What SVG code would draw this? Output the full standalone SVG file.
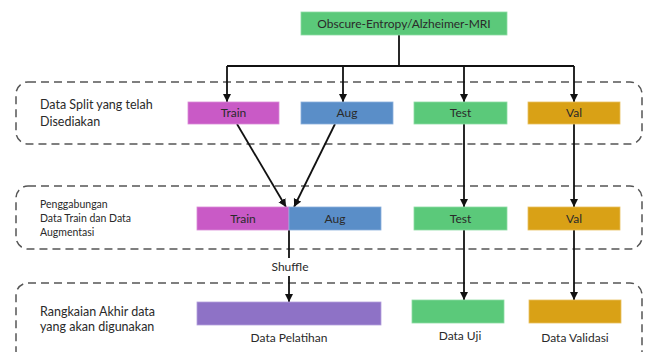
<svg xmlns="http://www.w3.org/2000/svg" width="648" height="352" viewBox="0 0 648 352">
<defs>
<marker id="ah" viewBox="0 0 10 10" refX="10" refY="5" markerWidth="8" markerHeight="9" markerUnits="userSpaceOnUse" orient="auto"><path d="M0,0 L10,5 L0,10 z" fill="#111"/></marker>
<style>
.t{font-family:"Lato","Liberation Sans",sans-serif;fill:#2a2a2a;}
.lbl{font-size:12px;text-anchor:middle;}
.side{font-size:12.5px;}
.side2{font-size:10.5px;}
.grp{fill:none;stroke:#555;stroke-width:1.5;stroke-dasharray:8 5;}
.c{fill:none;stroke:#111;stroke-width:1.8;}
.train{fill:#c95ac6;stroke:#d98ad6;stroke-width:0.8;}
.aug{fill:#5a8ec8;stroke:#8ab0dc;stroke-width:0.8;}
.grn{fill:#5bc97a;stroke:#8ddca4;stroke-width:0.8;}
.val{fill:#d9a116;stroke:#e8c060;stroke-width:0.8;}
.pur{fill:#8e72c6;stroke:#b4a0dc;stroke-width:0.8;}
</style>
</defs>
<rect width="648" height="352" fill="#ffffff"/>
<g id="groups">
<rect class="grp" x="16" y="82" width="626" height="62" rx="12"/>
<rect class="grp" x="16" y="186" width="626" height="63" rx="12"/>
<rect class="grp" x="16" y="283" width="626" height="80" rx="12"/>
<text class="t side" x="40" y="109">Data Split yang telah</text>
<text class="t side" x="40" y="126">Disediakan</text>
<text class="t side2" x="40" y="208">Penggabungan</text>
<text class="t side2" x="40" y="221.5">Data Train dan Data</text>
<text class="t side2" x="40" y="235.5">Augmentasi</text>
<text class="t side" x="40" y="316">Rangkaian Akhir data</text>
<text class="t side" x="40" y="331">yang akan digunakan</text>
</g>
<g id="connectors">
<path class="c" d="M399,35 V66"/>
<path class="c" d="M227,66 H574"/>
<path class="c" d="M227,66 V102" marker-end="url(#ah)"/>
<path class="c" d="M343,66 V102" marker-end="url(#ah)"/>
<path class="c" d="M464,66 V102" marker-end="url(#ah)"/>
<path class="c" d="M574,66 V102" marker-end="url(#ah)"/>
<path class="c" d="M237,124 L286,207" marker-end="url(#ah)"/>
<path class="c" d="M335,124 L294,207" marker-end="url(#ah)"/>
<path class="c" d="M464,124 V207" marker-end="url(#ah)"/>
<path class="c" d="M574,124 V207" marker-end="url(#ah)"/>
<path class="c" d="M289,230 V258"/>
<text class="t lbl" x="290" y="271">Shuffle</text>
<path class="c" d="M289,276 V302" marker-end="url(#ah)"/>
<path class="c" d="M464,230 V300" marker-end="url(#ah)"/>
<path class="c" d="M574,230 V300" marker-end="url(#ah)"/>
</g>
<g id="source">
<rect class="grn" x="301" y="12" width="206" height="23"/>
<text class="t lbl" x="404" y="28">Obscure-Entropy/Alzheimer-MRI</text>
</g>
<g id="train1"><rect class="train" x="188" y="102" width="91" height="22"/><text class="t lbl" x="233.5" y="117">Train</text></g>
<g id="aug1"><rect class="aug" x="301" y="102" width="92" height="22"/><text class="t lbl" x="347" y="117">Aug</text></g>
<g id="test1"><rect class="grn" x="414" y="102" width="93" height="22"/><text class="t lbl" x="460.5" y="117">Test</text></g>
<g id="val1"><rect class="val" x="528" y="102" width="92" height="22"/><text class="t lbl" x="574" y="117">Val</text></g>
<g id="train2"><rect class="train" x="197" y="207" width="92" height="23"/><text class="t lbl" x="243" y="223">Train</text></g>
<g id="aug2"><rect class="aug" x="289" y="207" width="92" height="23"/><text class="t lbl" x="335" y="223">Aug</text></g>
<g id="test2"><rect class="grn" x="414" y="207" width="93" height="23"/><text class="t lbl" x="460.5" y="223">Test</text></g>
<g id="val2"><rect class="val" x="528" y="207" width="92" height="23"/><text class="t lbl" x="574" y="223">Val</text></g>
<g id="pelatihan"><rect class="pur" x="197" y="302" width="184" height="23"/><text class="t lbl" x="289" y="342">Data Pelatihan</text></g>
<g id="uji"><rect class="grn" x="412" y="300" width="92" height="23"/><text class="t lbl" x="460" y="340">Data Uji</text></g>
<g id="validasi"><rect class="val" x="529" y="300" width="92" height="23"/><text class="t lbl" x="575" y="342">Data Validasi</text></g>
</svg>
